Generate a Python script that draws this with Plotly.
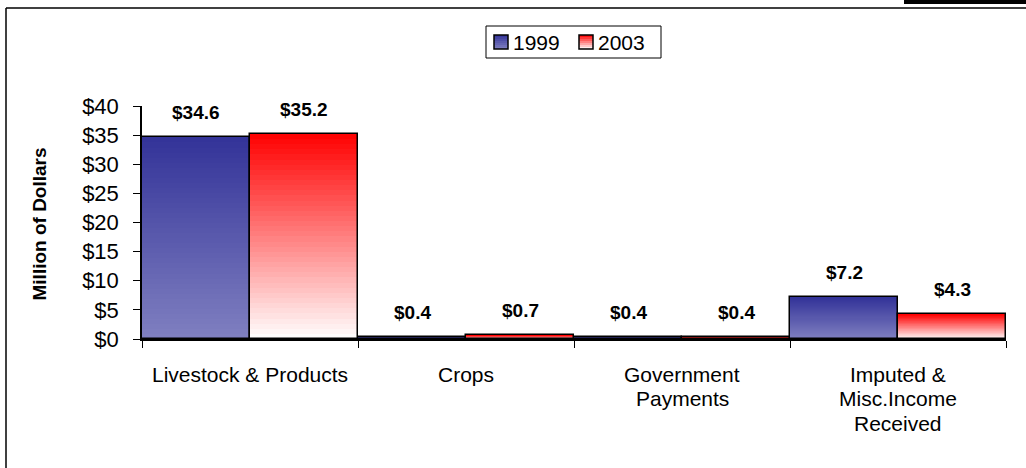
import plotly.graph_objects as go

categories = ["Livestock & Products", "Crops", "Government\nPayments",
              "Imputed &\nMisc.Income\nReceived"]
years = ["1999", "2003"]
values_1999 = [34.6, 0.4, 0.4, 7.2]
values_2003 = [35.2, 0.7, 0.4, 4.3]
y_ticks = [0, 5, 10, 15, 20, 25, 30, 35, 40]

FONT = "Arial, Liberation Sans, sans-serif"
W, H = 1026, 468
L, R, T, B = 142, 20, 106, 129
PW, PH = W - L - R, H - T - B

# gradient end colours per series: (bottom, top)
gradients = {
    "1999": ((128, 128, 192), (51, 51, 153)),
    "2003": ((255, 255, 255), (255, 0, 0)),
}
series = {"1999": values_1999, "2003": values_2003}
N = 40
SLOT = PW / len(categories) / 2  # width of one bar in px


def mix(c0, c1, t):
    return "rgb(%d,%d,%d)" % tuple(round(a + (b - a) * t) for a, b in zip(c0, c1))


def px(x):
    return (x - L) / PW


def py(y):
    return (H - B - y) / PH


fig = go.Figure()
annotations = []
shapes = []

for j, yr in enumerate(years):
    vals = series[yr]
    c0, c1 = gradients[yr]
    # vertical gradient: each bar split into N stacked slices
    for k in range(N):
        fig.add_trace(go.Bar(
            x=categories, y=[v / N for v in vals], base=[v * k / N for v in vals],
            offsetgroup=yr, marker=dict(color=mix(c0, c1, (k + 0.5) / N), line=dict(width=0)),
            showlegend=False, hoverinfo="skip",
        ))
    # outline
    fig.add_trace(go.Bar(
        x=categories, y=vals, offsetgroup=yr, name=yr,
        marker=dict(color="rgba(0,0,0,0)", line=dict(color="black", width=1.5)),
        showlegend=False,
    ))
    # value labels above each bar
    for cat, v in zip(categories, vals):
        annotations.append(dict(
            x=cat, y=v, xref="x", yref="y", text="<b>$%.1f</b>" % v,
            xshift=(j - 0.5) * SLOT, yshift=12, yanchor="bottom", showarrow=False,
            font=dict(family=FONT, size=19, color="black"),
        ))

# category labels, one annotation per line for tighter line spacing
for cat in categories:
    for i, line in enumerate(cat.split("\n")):
        annotations.append(dict(
            x=cat, xref="x", yref="paper", y=py(374 + i * 24.5), yanchor="middle",
            text=line, showarrow=False, font=dict(family=FONT, size=21, color="black"),
        ))

annotations.append(dict(text="<b>Million of Dollars</b>", xref="paper", yref="paper",
                        x=px(38.5), y=py(224), xanchor="center", yanchor="middle",
                        textangle=-90, showarrow=False,
                        font=dict(family=FONT, size=19, color="black")))

# legend box with gradient swatches
LEG_X0, LEG_X1, LEG_Y0, LEG_Y1 = 486, 661, 26, 58
shapes.append(dict(type="rect", xref="paper", yref="paper",
                   x0=px(LEG_X0), x1=px(LEG_X1), y0=py(LEG_Y0), y1=py(LEG_Y1),
                   fillcolor="white", line=dict(color="black", width=1)))
SW, SY0, SY1 = 14, 35, 49
for j, yr in enumerate(years):
    sx = 494 + j * 85
    c0, c1 = gradients[yr]
    steps = 7
    for k in range(steps):
        ya = SY1 - (SY1 - SY0) * k / steps
        yb = SY1 - (SY1 - SY0) * (k + 1) / steps
        shapes.append(dict(type="rect", xref="paper", yref="paper",
                           x0=px(sx), x1=px(sx + SW), y0=py(ya), y1=py(yb),
                           fillcolor=mix(c0, c1, (k + 0.5) / steps), line=dict(width=0)))
    shapes.append(dict(type="rect", xref="paper", yref="paper",
                       x0=px(sx), x1=px(sx + SW), y0=py(SY0), y1=py(SY1),
                       line=dict(color="black", width=1.5)))
    annotations.append(dict(text=yr, xref="paper", yref="paper", x=px(sx + SW + 3), y=py(42),
                            xanchor="left", yanchor="middle", showarrow=False,
                            font=dict(family=FONT, size=21, color="black")))

# outer frame and corner band
shapes += [
    dict(type="line", xref="paper", yref="paper", x0=px(6), x1=px(W + 5), y0=py(8), y1=py(8),
         line=dict(color="black", width=1.5)),
    dict(type="line", xref="paper", yref="paper", x0=px(6), x1=px(6), y0=py(8), y1=py(H + 5),
         line=dict(color="black", width=1.5)),
    dict(type="rect", xref="paper", yref="paper", x0=px(904), x1=px(W + 5), y0=py(-2), y1=py(4),
         fillcolor="black", line=dict(width=0)),
]

fig.update_layout(
    width=W, height=H,
    margin=dict(l=L, r=R, t=T, b=B),
    paper_bgcolor="white", plot_bgcolor="white",
    barmode="group", bargap=0, bargroupgap=0,
    font=dict(family=FONT, size=21, color="black"),
    showlegend=False,
    xaxis=dict(showline=True, linecolor="black", linewidth=1.5, ticks="outside",
               tickson="boundaries", ticklen=7, tickcolor="black", showgrid=False,
               showticklabels=False),
    yaxis=dict(range=[0, 40], tickvals=y_ticks, ticktext=["$%d" % v for v in y_ticks],
               showline=True, linecolor="black", linewidth=1.5, ticks="outside",
               ticklen=7, tickcolor="black", showgrid=False, zeroline=False,
               ticklabelstandoff=10, tickfont=dict(family=FONT, size=22)),
    shapes=shapes,
    annotations=annotations,
)

fig.write_html("out.html")
